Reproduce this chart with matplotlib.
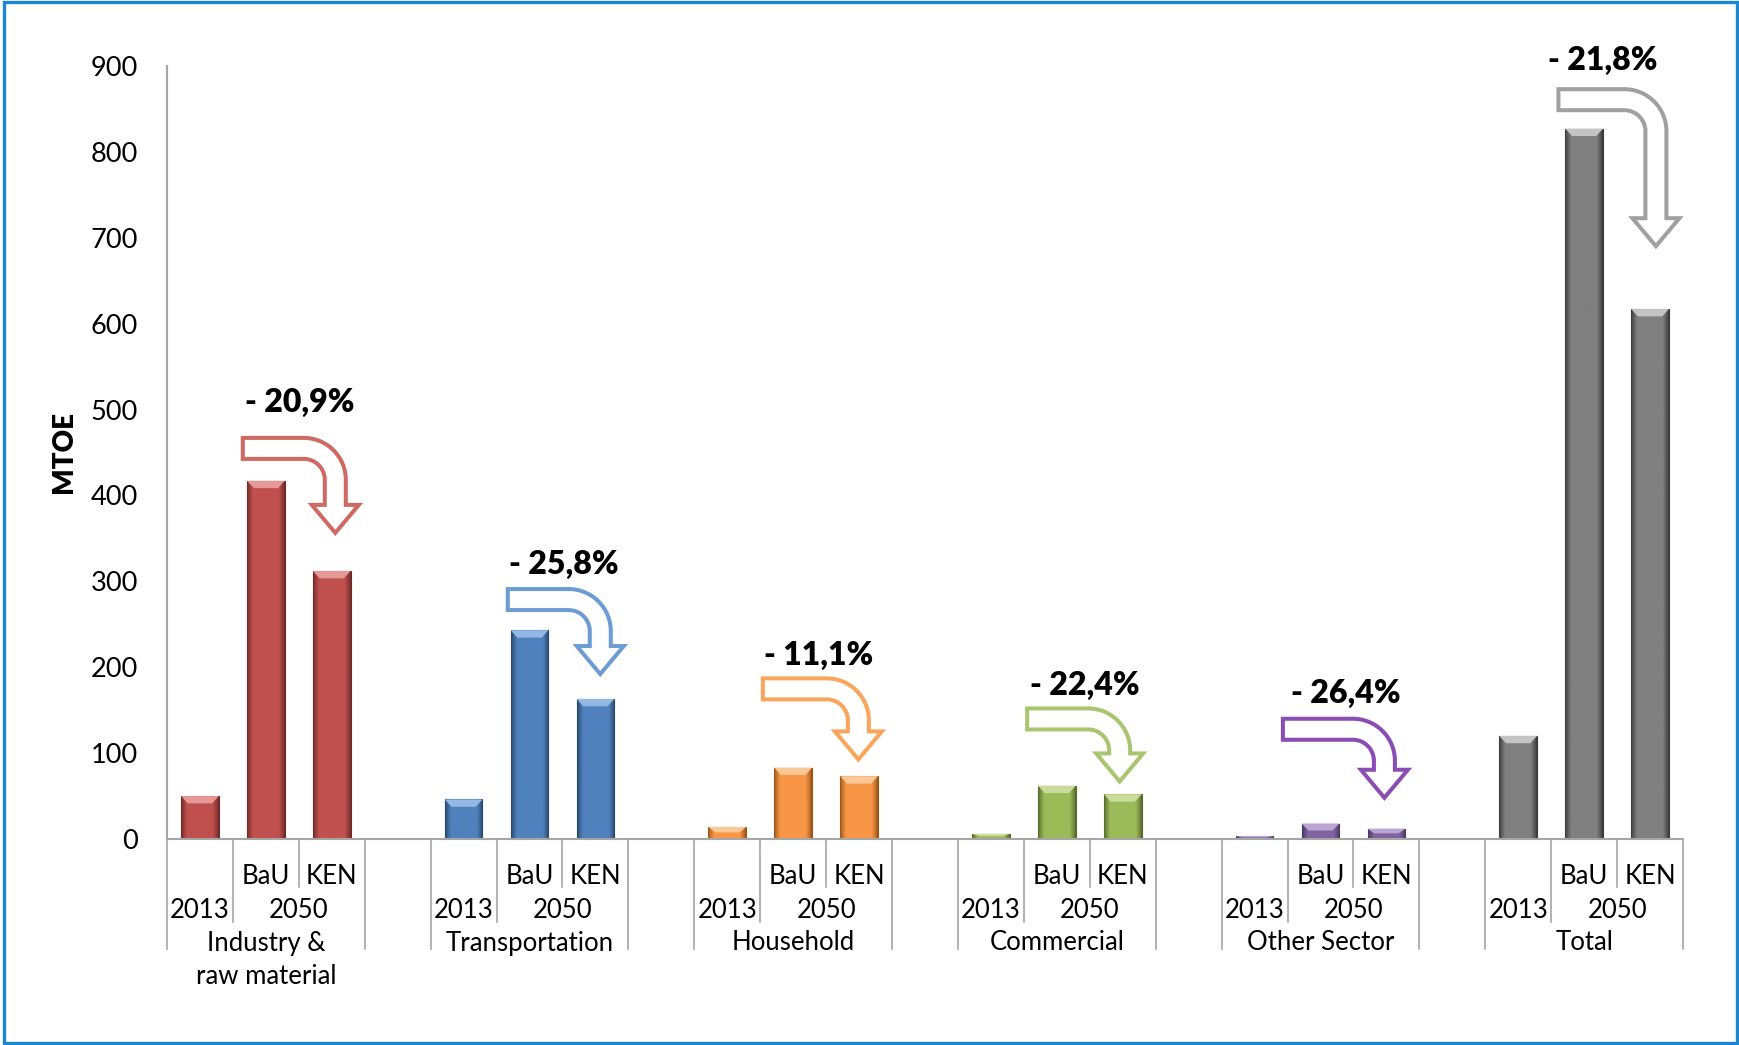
import numpy as np
import matplotlib
matplotlib.use('Agg')
import matplotlib.pyplot as plt
import matplotlib.transforms as mtransforms
from matplotlib.path import Path
from matplotlib.patches import PathPatch, Polygon, Rectangle
from matplotlib.colors import to_rgb

plt.rcParams['font.family'] = ['Lato', 'DejaVu Sans']

# final energy demand by sector, MTOE
sectors = ['Industry &\nraw material', 'Transportation', 'Household',
           'Commercial', 'Other Sector', 'Total']
val_2013 = [50, 46, 14, 6, 3.5, 120]
val_bau = [417, 243, 83, 62, 18, 827]
val_ken = [312, 163, 73, 52, 12, 617]
changes = ['- 20,9%', '- 25,8%', '- 11,1%', '- 22,4%', '- 26,4%', '- 21,8%']
scen_labels = ['BaU', 'KEN']
year_labels = ['2013', '2050']
yticks = [0, 100, 200, 300, 400, 500, 600, 700, 800, 900]

bar_col = ['#C0504D', '#4F81BD', '#F79646', '#9BBB59', '#8064A2', '#808080']
bar_light = ['#E59995', '#94B8E4', '#FCC996', '#C9DC9C', '#B9A6D2', '#C4C4C4']
bar_dark = ['#6E2A28', '#284569', '#9A5418', '#56692C', '#45365A', '#3A3A3A']
arrow_col = ['#CF6A63', '#6D9CD2', '#F9A65C', '#A9C56F', '#8A4DB3', '#A0A0A0']

# arrow anchors (left, top) in data units, size in px (width, height)
arrow_xy = [(0.65, 467), (4.67, 291), (8.54, 187), (12.55, 152), (16.43, 140), (20.61, 873)]
arrow_wh = [(116, 95), (116, 85), (119, 81), (116, 73), (125, 79), (121, 157)]
label_xy = [(1.52, 508), (5.52, 320), (9.39, 214), (13.42, 179), (17.38, 170), (21.28, 907)]

W, H = 1740, 1045
fig = plt.figure(figsize=(W / 100, H / 100), dpi=100)
x0px, x1px, y0px, y1px = 167, 1683, 839, 66
ax = fig.add_axes([x0px / W, 1 - y0px / H, (x1px - x0px) / W, (y0px - y1px) / H])

ncat = 6 * 4 - 1
bw = 0.57


def shade_bar(x, h, c, cl, cd):
    bar = ax.bar(x, h, width=bw, color=c, edgecolor=cd, linewidth=0.8, zorder=2)[0]
    # side shading
    t = np.linspace(0, 1, 64)
    f = np.clip(np.minimum(t, 1 - t) / 0.16, 0, 1) ** 0.8
    base, dark = np.array(to_rgb(c)), np.array(to_rgb(cd))
    img = dark[None, :] * (1 - f[:, None]) + base[None, :] * f[:, None]
    im = ax.imshow(img[None, :, :], extent=(x - bw / 2, x + bw / 2, 0, h),
                   aspect='auto', interpolation='bilinear', zorder=2.5)
    im.set_clip_path(bar)
    # bevel on top
    dy = min(8.5, 0.45 * h)
    dx = 0.1
    ax.add_patch(Polygon([(x - bw / 2, h), (x + bw / 2, h),
                          (x + bw / 2 - dx, h - dy), (x - bw / 2 + dx, h - dy)],
                         closed=True, facecolor=cl, edgecolor='none', zorder=3))


for g in range(6):
    s = 4 * g
    for k, v in enumerate([val_2013[g], val_bau[g], val_ken[g]]):
        shade_bar(s + k, v, bar_col[g], bar_light[g], bar_dark[g])


def bent_arrow(w, h, t=21, hw=47, hh=28, ro=42):
    ri = ro - t
    cx = w - hw / 2
    xo, xi = cx + t / 2, cx - t / 2
    k = 0.5523
    verts = [(0, 0), (xo - ro, 0),
             (xo - ro + k * ro, 0), (xo, ro - k * ro), (xo, ro),
             (xo, h - hh), (w, h - hh), (cx, h), (w - hw, h - hh), (xi, h - hh),
             (xi, t + ri),
             (xi, t + ri - k * ri), (xi - ri + k * ri, t), (xi - ri, t),
             (0, t), (0, 0)]
    codes = [Path.MOVETO, Path.LINETO,
             Path.CURVE4, Path.CURVE4, Path.CURVE4,
             Path.LINETO, Path.LINETO, Path.LINETO, Path.LINETO, Path.LINETO,
             Path.LINETO,
             Path.CURVE4, Path.CURVE4, Path.CURVE4,
             Path.LINETO, Path.CLOSEPOLY]
    return Path(verts, codes)


for g in range(6):
    ax_, ay_ = arrow_xy[g]
    aw, ah = arrow_wh[g]
    tr = (mtransforms.Affine2D().scale(1 / 100, -1 / 100) + fig.dpi_scale_trans
          + mtransforms.ScaledTranslation(ax_, ay_, ax.transData))
    ax.add_artist(PathPatch(bent_arrow(aw, ah), transform=tr, facecolor='white',
                            edgecolor=arrow_col[g], linewidth=2.9, zorder=4,
                            clip_on=False))
    ax.text(label_xy[g][0], label_xy[g][1], changes[g], ha='center', va='center',
            fontsize=23, fontweight='heavy', color='black', zorder=5, clip_on=False)

# axes styling
ax.set_xlim(-0.5, ncat - 0.5)
ax.set_ylim(0, 900)
ax.set_yticks(yticks)
ax.set_xticks([])
ax.tick_params(axis='y', length=0, pad=21, labelsize=19.5)
for sp in ['top', 'right']:
    ax.spines[sp].set_visible(False)
for sp in ['left', 'bottom']:
    ax.spines[sp].set_color('#A6A6A6')
    ax.spines[sp].set_linewidth(1.5)
ax.set_ylabel('MTOE', fontsize=20, fontweight='heavy', labelpad=0)
ax.yaxis.set_label_coords(77 / W, 1 - 452 / H, transform=fig.transFigure)

# multi-level category axis
bt = mtransforms.blended_transform_factory(ax.transData, fig.transFigure)
yf = lambda py: 1 - py / H
lc = '#A6A6A6'
fs = 18.5
for g in range(6):
    s = 4 * g
    for xb, yb in [(s - 0.5, 949), (s + 0.5, 922), (s + 1.5, 887), (s + 2.5, 949)]:
        ax.plot([xb, xb], [yf(y0px), yf(yb)], transform=bt, color=lc, lw=1.2,
                clip_on=False, zorder=1)
    ax.text(s + 1, yf(877), scen_labels[0], transform=bt, ha='center', va='center', fontsize=fs)
    ax.text(s + 2, yf(877), scen_labels[1], transform=bt, ha='center', va='center', fontsize=fs)
    ax.text(s, yf(910), year_labels[0], transform=bt, ha='center', va='center', fontsize=fs)
    ax.text(s + 1.5, yf(910), year_labels[1], transform=bt, ha='center', va='center', fontsize=fs)
    for j, line in enumerate(sectors[g].split('\n')):
        ax.text(s + 1, yf(943 + 34 * j), line, transform=bt, ha='center', va='center',
                fontsize=fs)

# outer frame
fig.add_artist(Rectangle((4 / W, 2 / H), (W - 7) / W, (H - 4) / H, transform=fig.transFigure,
                         fill=False, edgecolor='#1C86D0', linewidth=2.4))

fig.savefig('out.png', dpi=100)
